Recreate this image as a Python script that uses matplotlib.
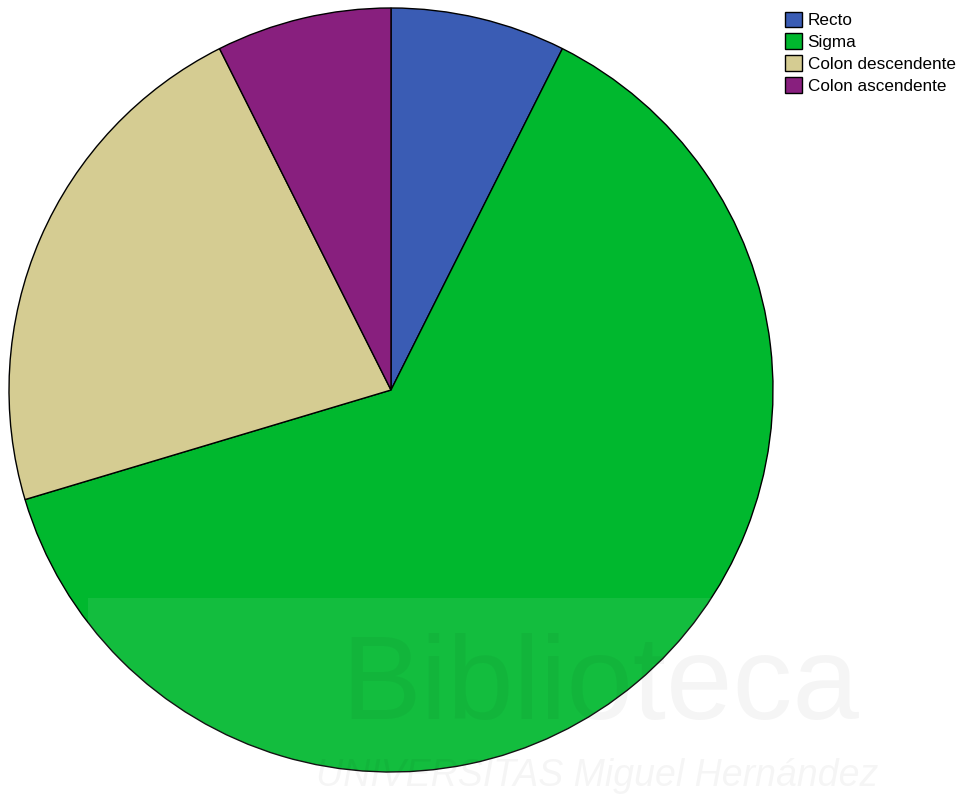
import matplotlib
matplotlib.use("Agg")
import matplotlib.pyplot as plt
from matplotlib.patches import Rectangle

labels = ["Recto", "Sigma", "Colon descendente", "Colon ascendente"]
counts = [2, 17, 6, 2]
colors = ["#3A5CB4", "#00B82E", "#D5CC92", "#881F7E"]

plt.rcParams['font.family'] = ['Liberation Sans', 'DejaVu Sans']

W, H = 956, 799
fig = plt.figure(figsize=(W / 100, H / 100), dpi=100)
cx, cy, r = 391, 390, 382
ax = fig.add_axes([(cx - r) / W, 1 - (cy + r) / H, 2 * r / W, 2 * r / H])
wedges, _ = ax.pie(counts, colors=colors, startangle=90, counterclock=False,
                   wedgeprops=dict(edgecolor="black", linewidth=1.0))
ax.set_xlim(-1.0, 1.0)
ax.set_ylim(-1.0, 1.0)
ax.set_aspect("equal")
ax.axis("off")

fig.legend(wedges, labels, loc="upper left",
           bbox_to_anchor=(776 / W, 1 - 3 / H), frameon=False,
           fontsize=12.3, handlelength=1.05, handleheight=1.05,
           handletextpad=0.3, labelspacing=0.3, borderpad=0.0)

# faint watermark overlay
fig.patches.append(Rectangle((88 / W, 0), (880 - 88) / W, (H - 598) / H,
                             transform=fig.transFigure, facecolor="white",
                             alpha=0.08, edgecolor="none", zorder=10))
fig.text(600 / W, 1 - 688 / H, "Biblioteca", fontsize=86, color="#000000",
         alpha=0.04, ha="center", va="center", zorder=11)
fig.text(597 / W, 1 - 776 / H, "UNIVERSITAS Miguel Hernández", fontsize=27,
         color="#000000", alpha=0.04, ha="center", va="center", zorder=11,
         style="italic")

fig.savefig("out.png", dpi=100)
